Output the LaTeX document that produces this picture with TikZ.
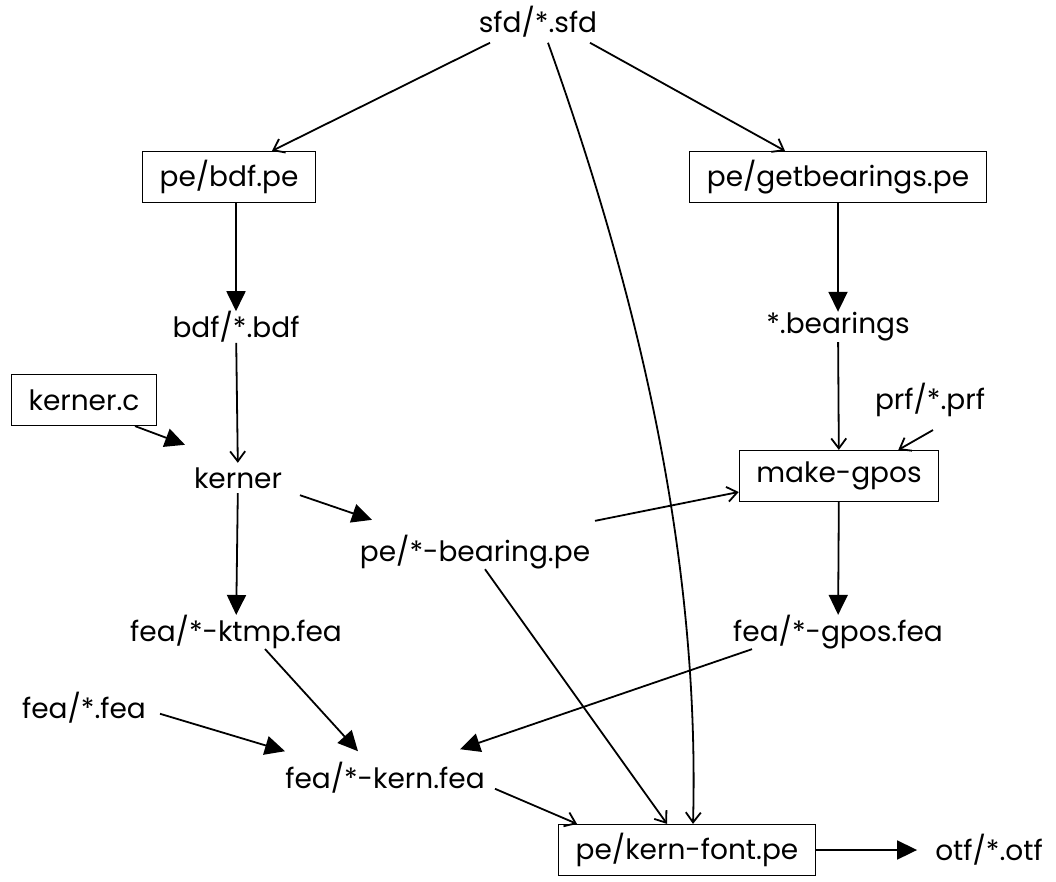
\documentclass[tikz,border=0pt]{standalone}
\usepackage{fontspec}
\setmainfont{Poppins}
\usetikzlibrary{arrows.meta}
\begin{document}
\begin{tikzpicture}[x=1pt,y=-1pt,
  every node/.style={font=\fontsize{28}{33}\selectfont, inner sep=0pt},
  boxed/.style={draw, line width=1.2pt, minimum height=51pt, inner xsep=17pt},
  plain/.style={minimum height=30pt},
  heavy/.style={line width=1.8pt, -{Triangle[length=20pt,width=19pt]}},
  light/.style={line width=1.8pt, -{Straight Barb[length=10pt,width=15pt,line width=1.8pt]}}]
\useasboundingbox (0,0) rectangle (1056,882);
\node[plain] (sfd) at (538,22) {sfd/*.sfd};
\node[boxed] (bdfpe) at (229,177) {pe/bdf.pe};
\node[boxed] (getb) at (838,177) {pe/getbearings.pe};
\node[plain] (bdf) at (236,327) {bdf/*.bdf};
\node[plain] (bear) at (838,327) {*.bearings};
\node[boxed] (kc) at (84,400) {kerner.c};
\node[plain] (prf) at (930,400) {prf/*.prf};
\node[plain] (kerner) at (238,478) {kerner};
\node[boxed] (mg) at (839,476) {make-gpos};
\node[plain] (pbear) at (475,552) {pe/*-bearing.pe};
\node[plain] (ktmp) at (236,632) {fea/*-ktmp.fea};
\node[plain] (gpos) at (838,632) {fea/*-gpos.fea};
\node[plain] (fea) at (84,708) {fea/*.fea};
\node[plain] (kern) at (385,778) {fea/*-kern.fea};
\node[boxed] (kf) at (687,850) {pe/kern-font.pe};
\node[plain] (otf) at (989,850) {otf/*.otf};

\draw[light] ([xshift=-48pt,yshift=-5pt]sfd.south) -- ([xshift=43pt]bdfpe.north);
\draw[light] ([xshift=52pt,yshift=-5pt]sfd.south) -- ([xshift=-53pt]getb.north);
\draw[light] ([xshift=10pt,yshift=-5pt]sfd.south) .. controls (640,300) and (700,560) .. ([xshift=6pt]kf.north);
\draw[heavy] (bdfpe.south -| bdf) -- (bdf);
\draw[heavy] (getb) -- (bear);
\draw[light] (bdf) -- (kerner);
\draw[light] (bear) -- (mg);
\draw[heavy] ([xshift=51pt]kc.south) -- ([xshift=-53pt,yshift=18pt]kerner.north);
\draw[light] ([xshift=3pt,yshift=-13pt]prf.south) -- ([xshift=-41pt]mg.north east);
\draw[heavy] ([xshift=62pt,yshift=-2pt]kerner.south) -- ([xshift=-103pt,yshift=15pt]pbear.north);
\draw[heavy] (kerner) -- (ktmp);
\draw[light] ([xshift=120pt,yshift=14pt]pbear.north) -- ([yshift=-16pt]mg.west);
\draw[light] ([xshift=10pt]pbear.south) -- ([xshift=-20pt]kf.north);
\draw[heavy] (mg) -- (gpos);
\draw[heavy] ([xshift=29pt]ktmp.south) -- ([xshift=-27pt,yshift=11pt]kern.north);
\draw[heavy] ([xshift=76pt,yshift=10pt]fea.south) -- ([xshift=-100pt,yshift=11pt]kern.north);
\draw[heavy] ([xshift=-86pt]gpos.south) -- ([xshift=75pt,yshift=13pt]kern.north);
\draw[light] ([xshift=110pt,yshift=5pt]kern.south) -- ([xshift=-110pt]kf.north);
\draw[heavy] (kf) -- ([xshift=-18pt]otf.west);
\end{tikzpicture}
\end{document}
